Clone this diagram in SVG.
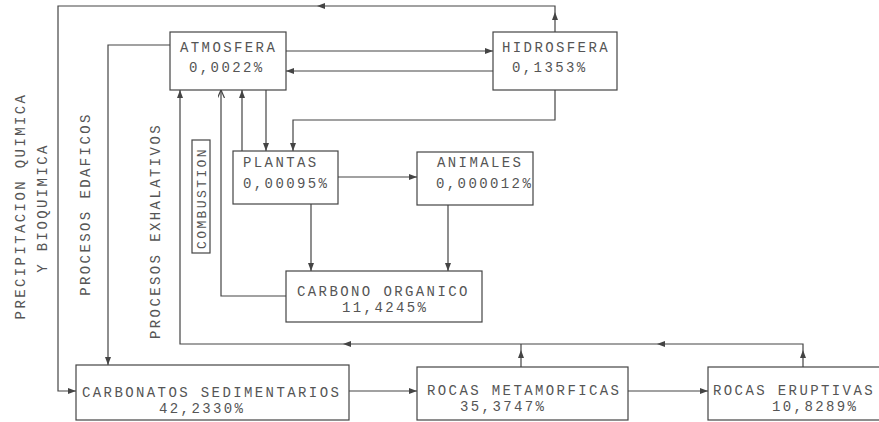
<svg xmlns="http://www.w3.org/2000/svg" width="879" height="422" viewBox="0 0 879 422">
<style>
.box{fill:#fff;stroke:#444;stroke-width:1.2}
.ln{fill:none;stroke:#444;stroke-width:1.2}
text{font-family:"Liberation Mono","DejaVu Sans Mono",monospace;font-size:14px;fill:#555;letter-spacing:2.4px}
.v{text-anchor:middle}
</style>
<defs>
<marker id="a" markerUnits="userSpaceOnUse" markerWidth="9" markerHeight="7" refX="8" refY="3" orient="auto"><path d="M0,0 L8,3 L0,6 z" fill="#444"/></marker>
<marker id="o" markerUnits="userSpaceOnUse" markerWidth="10" markerHeight="8" refX="8" refY="3.5" orient="auto"><path d="M0,0 L8,3.5 L0,7" fill="none" stroke="#444" stroke-width="1.2"/></marker>
</defs>
<rect width="879" height="422" fill="#fff"/>
<g id="connectors">
<path class="ln" d="M555,32 L555,12" marker-end="url(#a)"/>
<path class="ln" d="M555,12 L555,6 L317,6" marker-end="url(#a)"/>
<path class="ln" d="M317,6 L58,6 L58,391 L76,391" marker-end="url(#a)"/>
<path class="ln" d="M170,45 L108,45 L108,365" marker-end="url(#a)"/>
<path class="ln" d="M803,367 L803,350" marker-end="url(#a)"/>
<path class="ln" d="M803,350 L803,344 L657,344" marker-end="url(#a)"/>
<path class="ln" d="M657,344 L343,344" marker-end="url(#a)"/>
<path class="ln" d="M343,344 L180,344 L180,90" marker-end="url(#a)"/>
<path class="ln" d="M521,367 L521,350" marker-end="url(#a)"/>
<path class="ln" d="M521,350 L521,344"/>
<path class="ln" d="M286,296 L221,296 L221,90" marker-end="url(#o)"/>
<path class="ln" d="M242,151 L242,90" marker-end="url(#a)"/>
<path class="ln" d="M266,90 L266,151" marker-end="url(#a)"/>
<path class="ln" d="M555,90 L555,120 L293,120 L293,151" marker-end="url(#a)"/>
<path class="ln" d="M286,51 L493,51" marker-end="url(#a)"/>
<path class="ln" d="M493,71 L286,71" marker-end="url(#a)"/>
<path class="ln" d="M338,177 L417,177" marker-end="url(#a)"/>
<path class="ln" d="M311,204 L311,271" marker-end="url(#a)"/>
<path class="ln" d="M448,205 L448,271" marker-end="url(#a)"/>
<path class="ln" d="M349,391 L417,391" marker-end="url(#a)"/>
<path class="ln" d="M628,391 L708,391" marker-end="url(#a)"/>
</g>
<g id="labels">
<text class="v" transform="translate(25,206) rotate(-90)">PRECIPITACION QUIMICA</text>
<text class="v" transform="translate(47,208) rotate(-90)">Y BIOQUIMICA</text>
<text class="v" transform="translate(90,204) rotate(-90)">PROCESOS EDAFICOS</text>
<text class="v" transform="translate(160,231) rotate(-90)">PROCESOS EXHALATIVOS</text>
<g id="combustion">
<rect class="box" x="192" y="140" width="18" height="113"/>
<text class="v" style="font-size:13px;letter-spacing:2.4px" transform="translate(205.5,198) rotate(-90)">COMBUSTION</text>
</g>
</g>
<g id="atmosfera">
<rect class="box" x="170" y="32" width="116" height="58"/>
<text x="180" y="52">ATMOSFERA</text>
<text x="189" y="72">0,0022%</text>
</g>
<g id="hidrosfera">
<rect class="box" x="493" y="32" width="124" height="58"/>
<text x="502" y="52">HIDROSFERA</text>
<text x="512" y="72">0,1353%</text>
</g>
<g id="plantas">
<rect class="box" x="233" y="151" width="105" height="53"/>
<text x="243" y="167">PLANTAS</text>
<text x="243" y="188">0,00095%</text>
</g>
<g id="animales">
<rect class="box" x="417" y="152" width="116" height="53"/>
<text x="437" y="167">ANIMALES</text>
<text x="436" y="188">0,000012%</text>
</g>
<g id="carbono">
<rect class="box" x="286" y="271" width="196" height="51"/>
<text x="297" y="296">CARBONO ORGANICO</text>
<text x="342" y="312">11,4245%</text>
</g>
<g id="carbonatos">
<rect class="box" x="76" y="365" width="273" height="55"/>
<text x="82" y="397">CARBONATOS SEDIMENTARIOS</text>
<text x="159" y="413">42,2330%</text>
</g>
<g id="metamorficas">
<rect class="box" x="417" y="367" width="211" height="53"/>
<text x="427" y="395">ROCAS METAMORFICAS</text>
<text x="460" y="411">35,3747%</text>
</g>
<g id="eruptivas">
<rect class="box" x="708" y="367" width="180" height="53"/>
<text x="713" y="395">ROCAS ERUPTIVAS</text>
<text x="772" y="411">10,8289%</text>
</g>
</svg>
